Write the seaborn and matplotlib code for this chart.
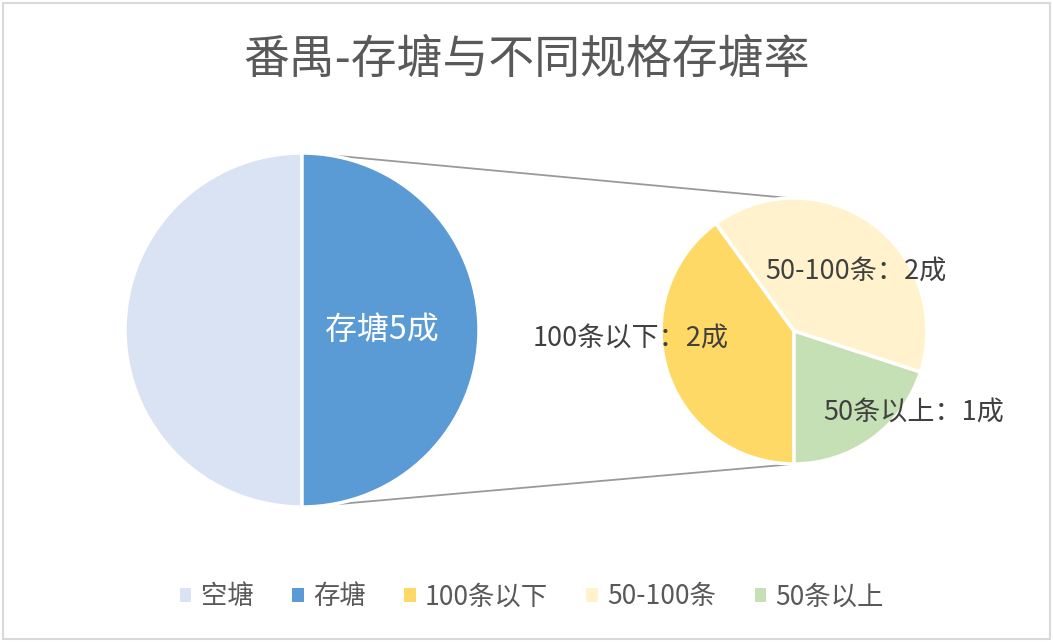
import numpy as np
import matplotlib
matplotlib.use("Agg")
import matplotlib.pyplot as plt
from matplotlib.patches import Patch
import seaborn as sns

# ---- data ----
main_labels = ['空塘', '存塘']
main_values = [5, 5]
main_colors = ['#DAE3F3', '#5B9BD5']

sub_labels = ['100条以下', '50-100条', '50条以上']
sub_values = [2, 2, 1]
sub_colors = ['#FFD966', '#FFF2CC', '#C5E0B4']

title = '番禺-存塘与不同规格存塘率'

sns.set_theme(style='white')
plt.rcParams['font.family'] = ['Noto Sans CJK SC', 'DejaVu Sans']

W, H = 1053, 642
fig = plt.figure(figsize=(W / 100, H / 100), dpi=100)
ax = fig.add_axes([0, 0, 1, 1])

# pie geometry (pixel space, y up)
c1, r1 = (302, H - 330), 177
c2, r2 = (794, H - 331), 133

wp = dict(edgecolor='white', linewidth=2.5)
ax.pie(main_values, colors=main_colors, startangle=90, counterclock=True,
       center=c1, radius=r1, wedgeprops=wp, frame=True)
ax.pie(sub_values, colors=sub_colors, startangle=270, counterclock=False,
       center=c2, radius=r2, wedgeprops=wp, frame=True)
ax.set_xlim(0, W)
ax.set_ylim(0, H)
ax.set_aspect('equal')
ax.axis('off')

# connector lines between the two pies
for a1, a2 in [(81, 92), (-81, -90)]:
    p1 = (c1[0] + r1 * np.cos(np.radians(a1)), c1[1] + r1 * np.sin(np.radians(a1)))
    p2 = (c2[0] + r2 * np.cos(np.radians(a2)), c2[1] + r2 * np.sin(np.radians(a2)))
    ax.plot([p1[0], p2[0]], [p1[1], p2[1]], color='#999999', lw=1.3, zorder=0)

# data labels
ax.text(c1[0] + 80, c1[1], f'{main_labels[1]}{main_values[1]}成', color='white',
        fontsize=23, ha='center', va='center')
lab_pos = [(631, H - 338), (856, H - 271), (914, H - 412)]
for (x, y), lab, v in zip(lab_pos, sub_labels, sub_values):
    ax.text(x, y, f'{lab}：{v}成', color='#404040', fontsize=19.5,
            ha='center', va='center')

# title
fig.text(0.5, 1 - 60 / H, title, ha='center', va='center',
         fontsize=33, color='#595959')

# legend
handles = [Patch(facecolor=c, edgecolor='none') for c in main_colors + sub_colors]
fig.legend(handles, main_labels + sub_labels, loc='center',
           bbox_to_anchor=(0.505, 1 - 597 / H), ncol=5, frameon=False,
           fontsize=19, labelcolor='#595959', handlelength=0.45,
           handleheight=0.45, handletextpad=0.35, columnspacing=1.45)

# outer border
fig.add_artist(plt.Rectangle((0.003, 0.005), 0.994, 0.99, transform=fig.transFigure,
                             fill=False, edgecolor='#D9D9D9', lw=1.5))

fig.savefig('out.png', dpi=100, facecolor='white')
